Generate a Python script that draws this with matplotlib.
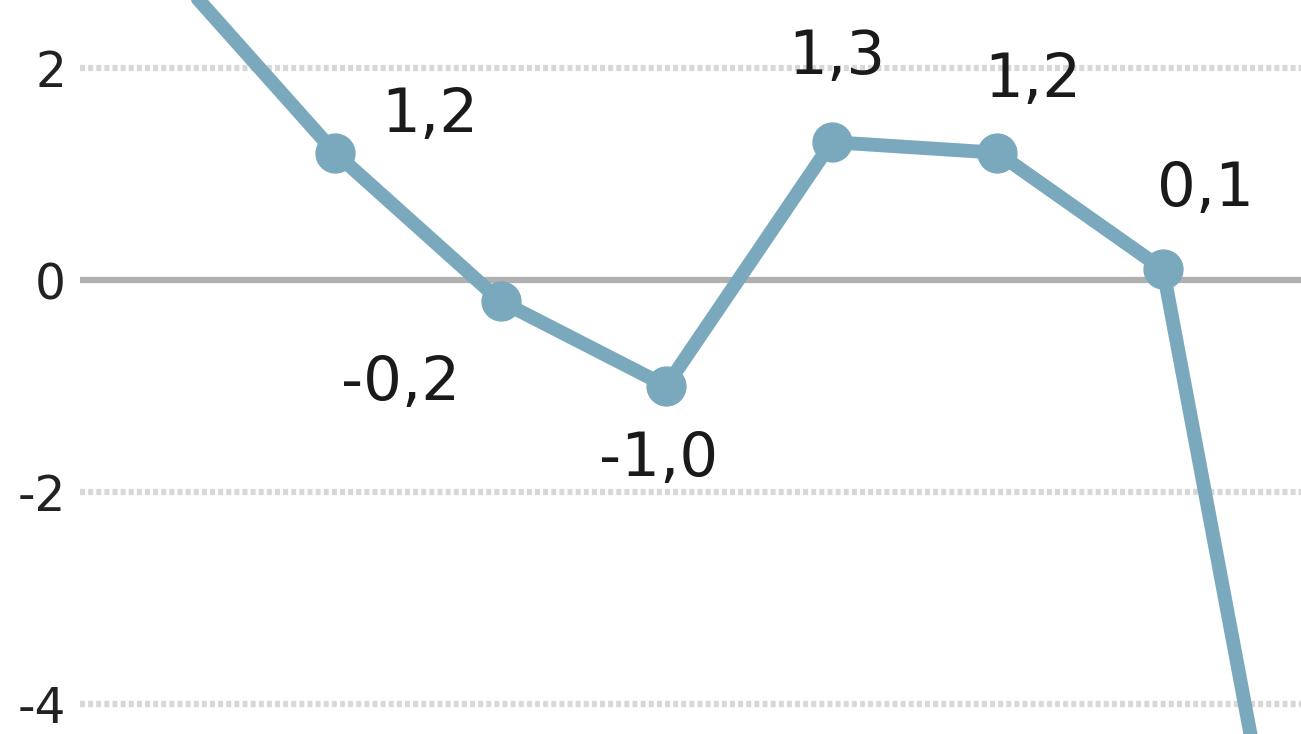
import numpy as np
import matplotlib.pyplot as plt

# values (first and last point lie outside the crop)
values = [2.95, 1.2, -0.2, -1.0, 1.3, 1.2, 0.1, -8.2]
labels = ["", "1,2", "-0,2", "-1,0", "1,3", "1,2", "0,1", ""]
# label offsets in pixels (dx, dy) from each point
offsets = [(0, 0), (95, 37), (-100, -82), (-8, -73), (5, 85), (35, 72), (42, 80), (0, 0)]

yticks = [2, 0, -2, -4]
ytick_labels = ["2", "0", "-2", "-4"]

line_color = "#7aa9be"

fig = plt.figure(figsize=(13.01, 7.34), dpi=100)
ax = fig.add_axes([80 / 1301, 0, 1 - 80 / 1301, 1])

x = np.arange(len(values))

# grid lines
for t in yticks:
    if t == 0:
        ax.axhline(t, color="#b0b0b0", linewidth=4.5, zorder=1)
    else:
        ax.axhline(t, color="#d8d8d8", linewidth=4.5, linestyle=(0, (0.8, 0.5)), zorder=1)

ax.plot(x, values, color=line_color, linewidth=10, marker="o", markersize=28,
        solid_joinstyle="round", solid_capstyle="round", zorder=3)

for xi, v, lab, (dx, dy) in zip(x, values, labels, offsets):
    if lab:
        ax.annotate(lab, (xi, v), xytext=(dx * 0.72, dy * 0.72), textcoords="offset points",
                    ha="center", va="center", fontsize=44, color="#1a1a1a")

ax.set_xlim(-0.54, 6.833)
ax.set_ylim(-4.28, 2.64)
ax.set_yticks(yticks)
ax.set_yticklabels(ytick_labels, fontsize=35, color="#222222")
ax.set_xticks([])
ax.tick_params(axis="y", length=0, pad=10)
for s in ax.spines.values():
    s.set_visible(False)

fig.savefig("out.png", dpi=100)
